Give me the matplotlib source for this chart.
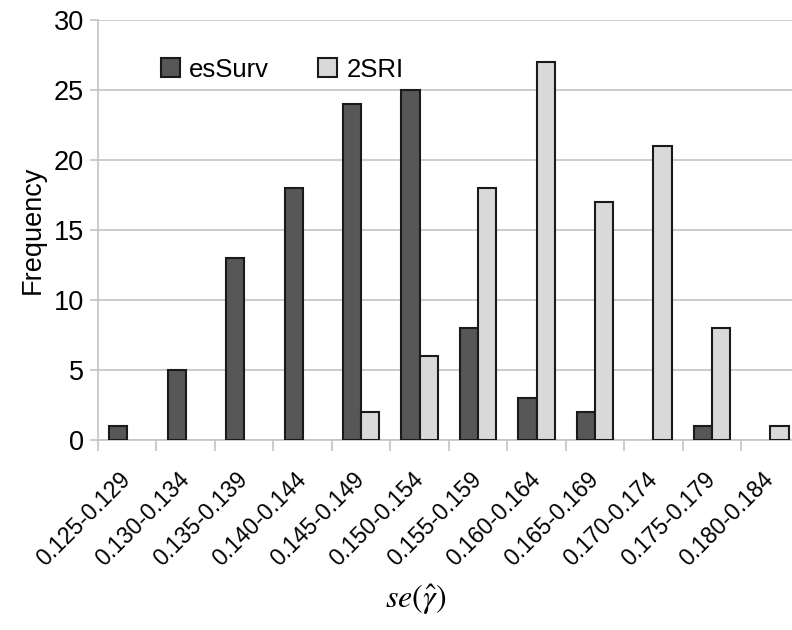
import matplotlib
matplotlib.use('Agg')
import matplotlib.pyplot as plt
import numpy as np

plt.rcParams['font.family'] = ['Liberation Sans', 'DejaVu Sans']
plt.rcParams['mathtext.fontset'] = 'stix'

# 数据
categories = ['0.125-0.129', '0.130-0.134', '0.135-0.139', '0.140-0.144',
              '0.145-0.149', '0.150-0.154', '0.155-0.159', '0.160-0.164',
              '0.165-0.169', '0.170-0.174', '0.175-0.179', '0.180-0.184']
essurv = [1, 5, 13, 18, 24, 25, 8, 3, 2, 0, 1, 0]
tsri = [0, 0, 0, 0, 2, 6, 18, 27, 17, 21, 8, 1]

fig = plt.figure(figsize=(7.92, 6.3), dpi=100)
ax = fig.add_axes([0.1237, 0.3016, 0.886, 0.6667])

x = np.arange(len(categories))
w = 0.31
grid_c = '#c4c4c4'

# 零值柱不画
e_vals = np.array(essurv, dtype=float)
t_vals = np.array(tsri, dtype=float)
e_mask = e_vals > 0
t_mask = t_vals > 0

ax.bar(x[e_mask] - w / 2, e_vals[e_mask], width=w, color='#575757',
       edgecolor='#1a1a1a', linewidth=1.5, label='esSurv', zorder=3)
ax.bar(x[t_mask] + w / 2, t_vals[t_mask], width=w, color='#d9d9d9',
       edgecolor='#1a1a1a', linewidth=1.5, label='2SRI', zorder=3)

ax.set_xlim(-0.5, len(categories) - 0.5)
ax.set_ylim(0, 30)
ax.set_yticks(range(0, 31, 5))
ax.tick_params(axis='y', labelsize=19.5, length=6, color=grid_c, width=1.2, pad=4)
ax.yaxis.grid(True, color=grid_c, linewidth=1.2, zorder=0)

ax.set_xticks(x)
ax.set_xticklabels(categories, rotation=45, ha='right', va='center',
                   rotation_mode='anchor', fontsize=16.5)
ax.tick_params(axis='x', which='major', length=0, pad=26)
ax.set_xticks(np.arange(-0.5, len(categories), 1.0), minor=True)
ax.tick_params(axis='x', which='minor', length=8, color=grid_c, width=1.2)

for s in ['top', 'right']:
    ax.spines[s].set_visible(False)
for s in ['left', 'bottom']:
    ax.spines[s].set_color(grid_c)
    ax.spines[s].set_linewidth(1.2)

ax.set_ylabel('Frequency', fontsize=19.5, labelpad=6)
fig.text(0.525, 1 - 600 / 630, r'$se(\hat{\gamma})$', fontsize=23,
         ha='center', va='center')

ax.legend(loc='upper left', bbox_to_anchor=(0.057, 0.965), ncol=2, frameon=False,
          fontsize=18.5, handlelength=0.75, handleheight=0.75, columnspacing=1.9,
          handletextpad=0.35)

plt.savefig('out.png', dpi=100)
